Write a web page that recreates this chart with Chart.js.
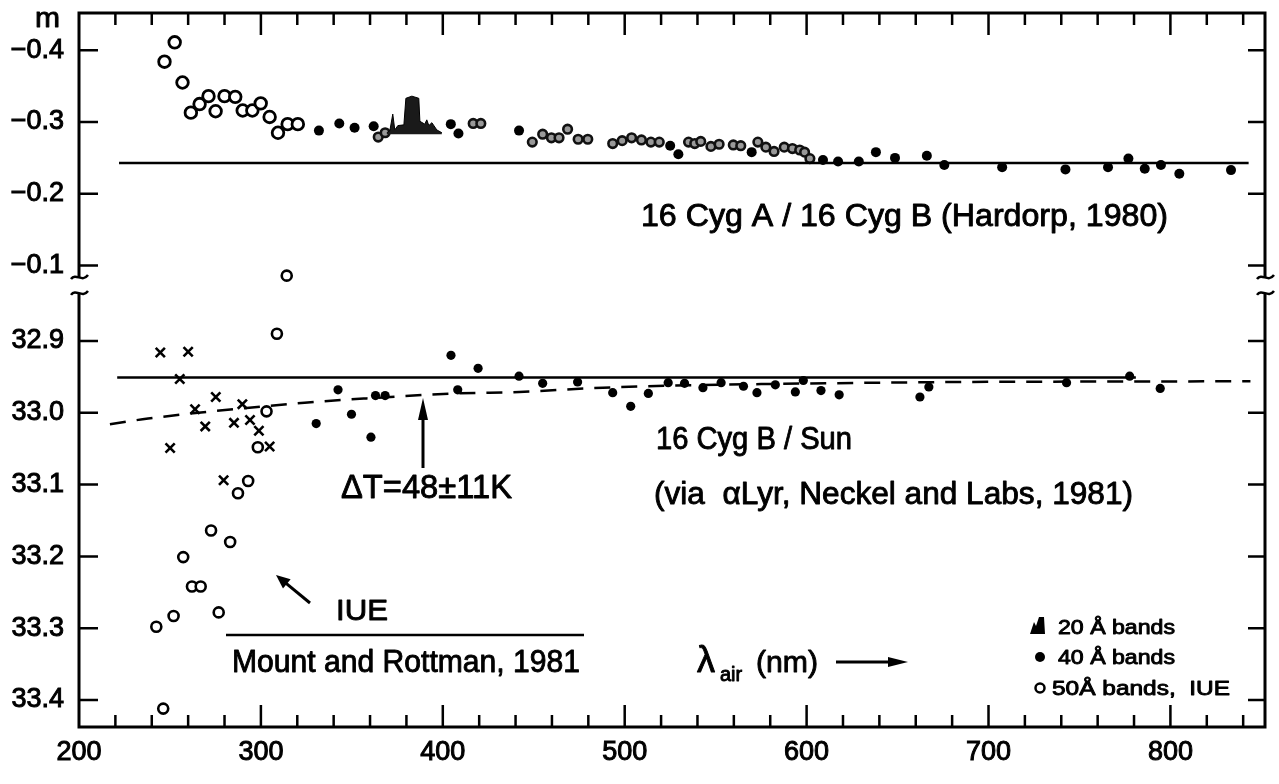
<!DOCTYPE html>
<html>
<head>
<meta charset="utf-8">
<script src="https://cdn.jsdelivr.net/npm/chart.js@4.4.0/dist/chart.umd.min.js"></script>
<style>
html, body { margin: 0; padding: 0; background: #fff; }
#wrap { width: 1279px; height: 784px; }
</style>
</head>
<body>
<div id="wrap"><canvas id="fig" width="1279" height="784"></canvas></div>
<script>
// wavelength (nm) and magnitude

// upper panel: 16 Cyg A / 16 Cyg B
var upperIueX = [247.0, 252.6, 256.9, 261.5, 266.3, 271.2, 275.1, 280.0, 285.9, 290.0, 295.3, 299.9, 304.8, 309.4, 314.7, 320.3];
var upperIueY = [-0.384, -0.411, -0.355, -0.313, -0.325, -0.336, -0.315, -0.336, -0.335, -0.316, -0.316, -0.326, -0.307, -0.285, -0.297, -0.297];

var upper40X = [331.9, 343.1, 351.5, 362.0, 404.4, 408.6, 441.9, 525.0, 529.5, 569.8, 609.0, 617.3, 628.7, 638.1, 648.6, 666.1, 675.7, 707.5, 742.3, 765.7, 776.9, 785.9, 794.8, 804.9, 833.3];
var upper40Y = [-0.288, -0.298, -0.292, -0.294, -0.297, -0.284, -0.288, -0.267, -0.255, -0.258, -0.247, -0.245, -0.245, -0.258, -0.250, -0.253, -0.240, -0.237, -0.234, -0.237, -0.249, -0.235, -0.240, -0.228, -0.233];

var upperRingX = [364.5, 368.3, 416.7, 420.9, 449.2, 454.9, 459.7, 463.9, 468.6, 474.4, 479.7, 493.4, 498.6, 503.8, 509.2, 514.4, 519.0, 535.1, 538.5, 541.8, 547.4, 551.9, 559.7, 563.8, 573.2, 577.6, 582.1, 587.7, 592.2, 596.2, 598.9, 601.8];
var upperRingY = [-0.279, -0.285, -0.298, -0.298, -0.272, -0.283, -0.278, -0.278, -0.290, -0.276, -0.276, -0.270, -0.274, -0.278, -0.275, -0.272, -0.272, -0.272, -0.270, -0.273, -0.266, -0.269, -0.268, -0.267, -0.272, -0.265, -0.259, -0.265, -0.263, -0.261, -0.258, -0.249];

// 20 A bands profile
var band20X = [369.2, 370.9, 372.5, 373.6, 375.3, 378.6, 379.7, 383.0, 386.8, 387.4, 390.1, 391.2, 392.3, 394.0, 396.7, 399.5];
var band20Y = [-0.285, -0.288, -0.311, -0.289, -0.295, -0.296, -0.333, -0.336, -0.333, -0.301, -0.297, -0.303, -0.295, -0.299, -0.289, -0.285];
var band20Base = -0.283;

var upperRefX = [222, 843];
var upperRefY = [-0.243, -0.243];

// lower panel: 16 Cyg B / Sun
var lowerIueX = [314.2, 308.8, 303.1, 298.3, 287.4, 293.0, 272.6, 283.1, 257.3, 262.1, 266.9, 252.0, 276.8, 242.5, 246.3];
var lowerIueY = [32.809, 32.890, 32.998, 33.048, 33.112, 33.095, 33.164, 33.180, 33.201, 33.242, 33.242, 33.283, 33.278, 33.298, 33.412];

var crossX = [244.7, 260.0, 255.4, 275.2, 263.8, 289.8, 269.4, 285.2, 294.0, 298.9, 250.1, 304.8, 279.5];
var crossY = [32.916, 32.915, 32.953, 32.978, 32.995, 32.988, 33.019, 33.014, 33.010, 33.025, 33.049, 33.047, 33.094];

var lower40X = [330.4, 342.4, 349.8, 360.5, 363.0, 368.3, 404.5, 408.2, 419.4, 441.9, 454.9, 474.1, 493.4, 503.3, 513.0, 523.9, 532.9, 543.0, 553.0, 565.3, 572.7, 582.8, 593.8, 598.2, 607.9, 617.9, 662.3, 667.2, 742.9, 777.6, 794.4];
var lower40Y = [33.015, 32.968, 33.002, 33.034, 32.976, 32.976, 32.920, 32.968, 32.938, 32.949, 32.959, 32.957, 32.972, 32.991, 32.973, 32.958, 32.959, 32.965, 32.958, 32.963, 32.972, 32.961, 32.971, 32.955, 32.969, 32.975, 32.978, 32.964, 32.958, 32.949, 32.966];

var lowerRefX = [221, 781];
var lowerRefY = [32.951, 32.951];

var fitX = [217, 238, 324, 358, 408, 442, 488, 643, 844];
var fitY = [33.016, 33.008, 32.986, 32.980, 32.973, 32.971, 32.965, 32.958, 32.956];

// ticks
var xTicks = [200, 300, 400, 500, 600, 700, 800];
var yTicksUpper = [-0.4, -0.3, -0.2, -0.1];
var yTicksLower = [32.9, 33.0, 33.1, 33.2, 33.3, 33.4];

// the upper panel is shifted onto the same (broken) axis
var UPPER_OFFSET = 32.895;
var BREAK_FROM = 32.811, BREAK_TO = 32.833;
var FONT = '"Liberation Sans", Arial, sans-serif';

function up(v) { return v + UPPER_OFFSET; }

function pts(xs, ys, shift) {
    var out = [];
    for (var i = 0; i < xs.length; i++) {
        out.push({ x: xs[i], y: shift ? up(ys[i]) : ys[i] });
    }
    return out;
}

function fmt(v) {
    return v.toFixed(1).replace('-', '\u2212');
}

function drawText(ctx, str, x, base, size, width) {
    ctx.save();
    ctx.font = size + 'px ' + FONT;
    var w = ctx.measureText(str).width;
    ctx.translate(x, base);
    if (width) ctx.scale(width / w, 1);
    ctx.textAlign = 'left';
    ctx.textBaseline = 'alphabetic';
    ctx.lineWidth = 0.9;
    ctx.lineJoin = 'round';
    ctx.fillText(str, 0, 0);
    ctx.strokeText(str, 0, 0);
    ctx.restore();
}

function arrow(ctx, x1, y1, x2, y2, head, half) {
    var a = Math.atan2(y2 - y1, x2 - x1);
    var c = Math.cos(a), s = Math.sin(a);
    ctx.beginPath();
    ctx.moveTo(x1, y1);
    ctx.lineTo(x2 - c * head * 0.8, y2 - s * head * 0.8);
    ctx.stroke();
    ctx.beginPath();
    ctx.moveTo(x2, y2);
    ctx.lineTo(x2 - c * head + s * half, y2 - s * head - c * half);
    ctx.lineTo(x2 - c * head - s * half, y2 - s * head + c * half);
    ctx.closePath();
    ctx.fill();
}

function squiggle(ctx, x, y) {
    ctx.beginPath();
    ctx.moveTo(x - 8, y + 2);
    ctx.bezierCurveTo(x - 3, y - 5, x + 3, y + 6, x + 9, y - 2);
    ctx.stroke();
}

var framePlugin = {
    id: 'frame',
    afterDatasetsDraw: function (chart) {
        var ctx = chart.ctx, a = chart.chartArea;
        var xs = chart.scales.x, ys = chart.scales.y;
        var bTop = ys.getPixelForValue(BREAK_FROM);
        var bBot = ys.getPixelForValue(BREAK_TO);
        ctx.save();
        ctx.strokeStyle = '#000';
        ctx.fillStyle = '#000';
        ctx.lineWidth = 3;

        // frame with broken side axes
        ctx.beginPath();
        ctx.moveTo(a.left, bTop); ctx.lineTo(a.left, a.top); ctx.lineTo(a.right, a.top); ctx.lineTo(a.right, bTop);
        ctx.moveTo(a.left, bBot); ctx.lineTo(a.left, a.bottom); ctx.lineTo(a.right, a.bottom); ctx.lineTo(a.right, bBot);
        ctx.stroke();
        ctx.lineWidth = 2.5;
        squiggle(ctx, a.left, bTop);
        squiggle(ctx, a.left, bBot);
        squiggle(ctx, a.right, bTop);
        squiggle(ctx, a.right, bBot);

        // x ticks, inward, top and bottom
        ctx.lineWidth = 2.5;
        ctx.beginPath();
        for (var v = xs.min + 20; v < xs.max; v += 20) {
            var px = xs.getPixelForValue(v);
            var len = (Math.round(v) % 100 === 0) ? 22 : 12;
            ctx.moveTo(px, a.bottom); ctx.lineTo(px, a.bottom - len);
            ctx.moveTo(px, a.top); ctx.lineTo(px, a.top + len);
        }
        // y ticks, inward, left and right
        var yv = yTicksUpper.map(up).concat(yTicksLower);
        yv.forEach(function (t) {
            var py = ys.getPixelForValue(t);
            ctx.moveTo(a.left, py); ctx.lineTo(a.left + 19, py);
            ctx.moveTo(a.right, py); ctx.lineTo(a.right - 17, py);
        });
        ctx.stroke();

        // axis unit
        drawText(ctx, 'm', 35, 27, 27, 25);

        // labels
        drawText(ctx, '16 Cyg A / 16 Cyg B (Hardorp, 1980)', 641, 226, 31, 527);
        drawText(ctx, '16 Cyg B / Sun', 656, 449, 31, 196);
        drawText(ctx, '(via  \u03b1Lyr, Neckel and Labs, 1981)', 654, 504, 31, 479);
        drawText(ctx, '\u0394T=48\u00b111K', 341, 498, 33, 171);
        drawText(ctx, 'IUE', 336, 620, 30, 52);
        drawText(ctx, 'Mount and Rottman, 1981', 232, 672, 31, 348);

        // line under IUE
        ctx.lineWidth = 2.5;
        ctx.beginPath();
        ctx.moveTo(226, 635); ctx.lineTo(584, 635);
        ctx.stroke();

        // arrows
        ctx.lineWidth = 3;
        arrow(ctx, 423, 468, 423, 398, 22, 5);
        arrow(ctx, 310, 603, 276, 575, 14, 6);

        // lambda_air (nm) ->
        drawText(ctx, '\u03bb', 697, 672, 36);
        drawText(ctx, 'air', 720, 681, 20);
        drawText(ctx, '(nm)', 756, 672, 30, 62);
        ctx.lineWidth = 3;
        arrow(ctx, 836, 662, 908, 662, 20, 5);

        // key
        ctx.beginPath();
        ctx.moveTo(1030, 634); ctx.lineTo(1034, 622); ctx.lineTo(1036, 626); ctx.lineTo(1039, 617);
        ctx.lineTo(1044, 617); ctx.lineTo(1045, 634); ctx.closePath();
        ctx.fill();
        drawText(ctx, '20 \u00c5 bands', 1058, 634, 20, 117);
        ctx.beginPath(); ctx.arc(1040, 657, 5, 0, Math.PI * 2); ctx.fill();
        drawText(ctx, '40 \u00c5 bands', 1058, 664, 20, 117);
        ctx.lineWidth = 2.5;
        ctx.beginPath(); ctx.arc(1040, 688, 4.5, 0, Math.PI * 2); ctx.stroke();
        drawText(ctx, '50\u00c5 bands,  IUE', 1052, 695, 20, 178);
        ctx.restore();
    }
};

Chart.defaults.color = '#000';

var tickFont = { size: 27, family: FONT };

new Chart(document.getElementById('fig'), {
    type: 'scatter',
    data: {
        datasets: [
            {
                data: pts(band20X, band20Y, true), showLine: true, pointRadius: 0,
                borderColor: '#000', borderWidth: 1, backgroundColor: '#1a1a1a',
                fill: { value: up(band20Base) }
            },
            { data: pts(upperRefX, upperRefY, true), showLine: true, pointRadius: 0, borderColor: '#000', borderWidth: 2.5 },
            { data: pts(lowerRefX, lowerRefY, false), showLine: true, pointRadius: 0, borderColor: '#000', borderWidth: 2.5 },
            {
                data: pts(fitX, fitY, false), showLine: true, pointRadius: 0, borderColor: '#000', borderWidth: 2.5,
                borderDash: [16, 11], cubicInterpolationMode: 'monotone'
            },
            { data: pts(upperIueX, upperIueY, true), pointRadius: 5.8, borderWidth: 2.8, borderColor: '#000', backgroundColor: '#fff' },
            { data: pts(upperRingX, upperRingY, true), pointRadius: 4.3, borderWidth: 2.6, borderColor: '#111', backgroundColor: '#999' },
            { data: pts(upper40X, upper40Y, true), pointRadius: 5, borderWidth: 0, backgroundColor: '#000' },
            { data: pts(lowerIueX, lowerIueY, false), pointRadius: 5, borderWidth: 2.6, borderColor: '#000', backgroundColor: '#fff' },
            { data: pts(crossX, crossY, false), pointStyle: 'crossRot', pointRadius: 6.5, borderWidth: 2.6, borderColor: '#000' },
            { data: pts(lower40X, lower40Y, false), pointRadius: 4.6, borderWidth: 0, backgroundColor: '#000' }
        ]
    },
    options: {
        responsive: false,
        animation: false,
        devicePixelRatio: 1,
        layout: { padding: { top: 13, right: 14, left: 0, bottom: 0 } },
        plugins: { legend: { display: false }, tooltip: { enabled: false } },
        scales: {
            x: {
                type: 'linear', min: 200, max: 852,
                grid: { display: false, drawTicks: false },
                border: { display: false },
                afterBuildTicks: function (s) { s.ticks = xTicks.map(function (v) { return { value: v }; }); },
                afterFit: function (s) { s.height = 57; s.paddingLeft = 0; s.paddingRight = 0; },
                ticks: {
                    font: tickFont, color: '#000', padding: 9, maxRotation: 0, autoSkip: false,
                    textStrokeColor: '#000', textStrokeWidth: 1
                }
            },
            y: {
                type: 'linear', reverse: true, min: 32.4432, max: 33.4376,
                grid: { display: false, drawTicks: false },
                border: { display: false },
                afterBuildTicks: function (s) {
                    s.ticks = yTicksUpper.map(up).concat(yTicksLower).map(function (v) { return { value: v }; });
                },
                afterFit: function (s) { s.width = 79; s.paddingTop = 0; s.paddingBottom = 0; },
                ticks: {
                    font: tickFont, color: '#000', padding: 15, autoSkip: false,
                    textStrokeColor: '#000', textStrokeWidth: 1,
                    callback: function (v) { return v < 32.85 ? fmt(v - UPPER_OFFSET) : fmt(v); }
                }
            }
        }
    },
    plugins: [framePlugin]
});
</script>
</body>
</html>
